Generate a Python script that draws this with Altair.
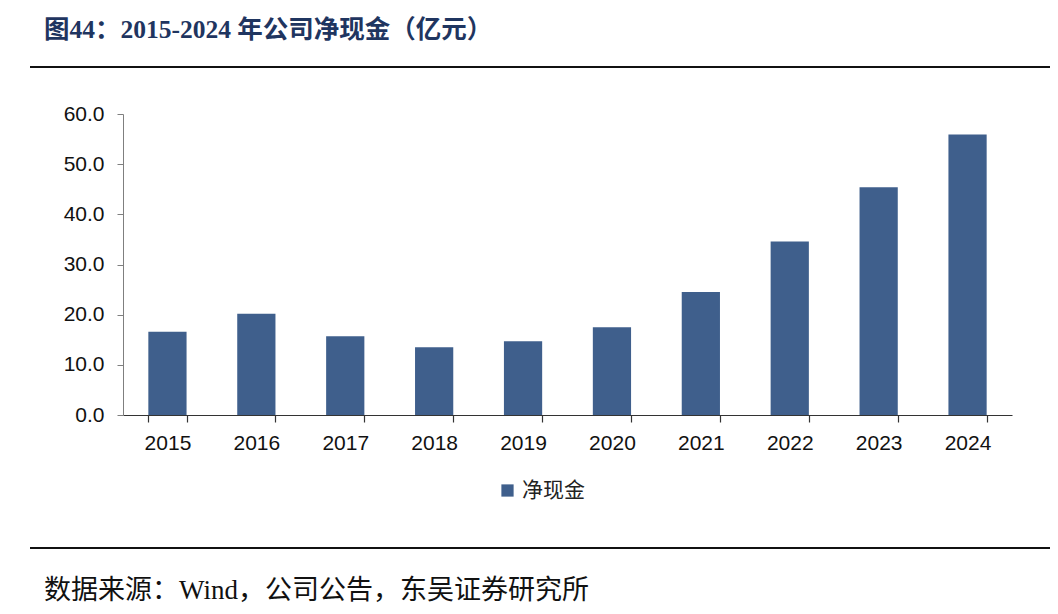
import altair as alt
import pandas as pd

years = ["2015", "2016", "2017", "2018", "2019", "2020", "2021", "2022", "2023", "2024"]
net_cash = [16.6, 20.2, 15.7, 13.5, 14.7, 17.5, 24.5, 34.6, 45.4, 55.9]
series_name = "净现金"
title_text = "图44：2015-2024 年公司净现金（亿元）"
source_text = "数据来源：Wind，公司公告，东吴证券研究所"
y_ticks = [0, 10, 20, 30, 40, 50, 60]

df = pd.DataFrame({"year": years, "value": net_cash, "series": [series_name] * len(years)})

W, H = 889, 301
LEFT, TOP = 115, 106

bars = alt.Chart(df).mark_bar(color="#3f5f8c").encode(
    x=alt.X("year:N", title=None, sort=years,
            scale=alt.Scale(paddingInner=0.57, paddingOuter=0.285),
            axis=alt.Axis(labelAngle=0, labelFont="Liberation Sans", labelFontSize=21,
                          labelColor="#111", labelPadding=10, tickSize=7, tickBand="extent",
                          ticks=True, domainColor="#333", tickColor="#333", domainWidth=1.2,
                          tickWidth=1.2, grid=False)),
    y=alt.Y("value:Q", title=None,
            scale=alt.Scale(domain=[0, 60], nice=False),
            axis=alt.Axis(values=y_ticks, format=".1f", labelFont="Liberation Sans",
                          labelFontSize=21, labelColor="#111", labelPadding=13, tickSize=6,
                          domainColor="#7f7f7f", tickColor="#7f7f7f", grid=False)),
    color=alt.Color("series:N", scale=alt.Scale(range=["#3f5f8c"]),
                    legend=alt.Legend(title=None, orient="none", legendX=374, legendY=366,
                                      symbolType="square", symbolSize=150, symbolStrokeWidth=0,
                                      labelFont="Noto Sans CJK SC", labelFontSize=21,
                                      labelColor="#222", labelOffset=4)),
)

line_df = pd.DataFrame({"k": [0]})
top_line = alt.Chart(line_df).mark_rule(color="#111", strokeWidth=2).encode(
    x=alt.value(-93), x2=alt.value(935), y=alt.value(-47))
bottom_line = alt.Chart(line_df).mark_rule(color="#111", strokeWidth=2).encode(
    x=alt.value(-93), x2=alt.value(935), y=alt.value(434))

title = alt.Chart(pd.DataFrame({"t": [title_text]})).mark_text(
    align="left", baseline="alphabetic", font="Liberation Serif, Noto Sans CJK SC",
    fontSize=25.5, fontWeight="bold", color="#1f3560").encode(
    x=alt.value(-79), y=alt.value(-76), text="t:N")

source = alt.Chart(pd.DataFrame({"t": [source_text]})).mark_text(
    align="left", baseline="alphabetic", font="Liberation Serif, Noto Sans CJK SC",
    fontSize=27, color="#111").encode(
    x=alt.value(-79), y=alt.value(485), text="t:N")

chart = alt.layer(bars, top_line, bottom_line, title, source).properties(
    width=W, height=H,
    background="white",
    autosize=alt.AutoSizeParams(type="none"),
    padding={"left": LEFT, "top": TOP, "right": 1042 - LEFT - W, "bottom": 605 - TOP - H},
).configure_view(strokeWidth=0, stroke="transparent")

chart.save("out.html", embed_options={"renderer": "svg", "actions": False})
